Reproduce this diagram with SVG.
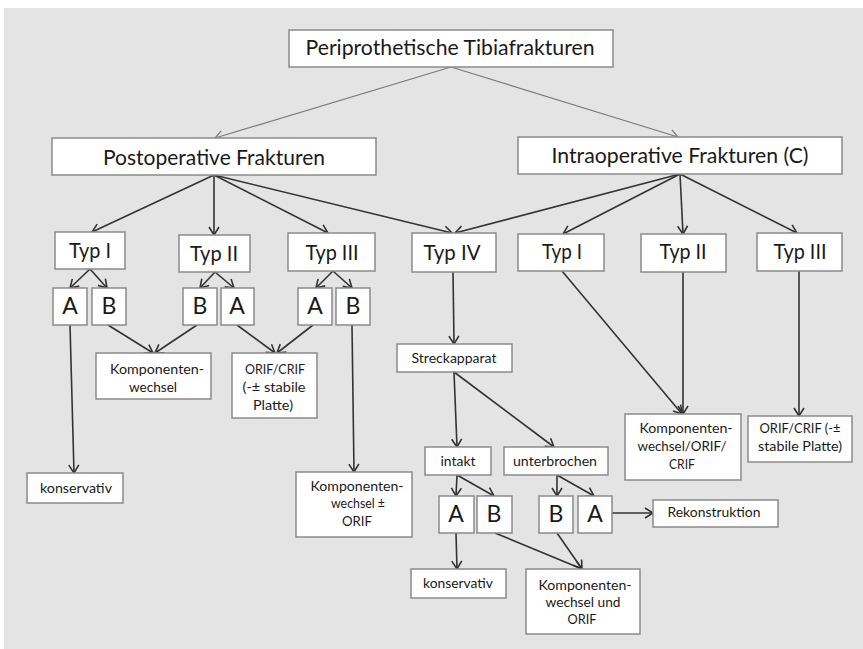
<svg xmlns="http://www.w3.org/2000/svg" width="863" height="649" viewBox="0 0 863 649">
<style>
.box{fill:#fff;stroke:#8a8a8a;stroke-width:1.5}
text{font-family:Lato,"Open Sans","Noto Sans",sans-serif;fill:#1a1a1a;text-anchor:middle}
.big{font-size:22px}
.ltr{font-size:23px}
.sm{font-size:14px}
.c{fill:none;stroke:#333;stroke-width:1.6;marker-end:url(#ah)}
.cl{fill:none;stroke:#7a7a7a;stroke-width:1.2;marker-end:url(#al)}
</style>
<defs>
<marker id="ah" markerUnits="userSpaceOnUse" markerWidth="12" markerHeight="12" refX="9" refY="5" orient="auto" overflow="visible">
<path d="M1,0 L9,5 L1,10" fill="none" stroke="#333" stroke-width="1.6"/>
</marker>
<marker id="al" markerUnits="userSpaceOnUse" markerWidth="12" markerHeight="12" refX="9" refY="5" orient="auto" overflow="visible">
<path d="M1,0 L9,5 L1,10" fill="none" stroke="#7a7a7a" stroke-width="1.2"/>
</marker>
</defs>
<rect x="0" y="0" width="863" height="649" fill="#fff"/>
<rect x="4" y="8" width="859" height="641" fill="#e4e4e4"/>

<g id="connectors">
<path class="cl" d="M451,67 L215,138"/>
<path class="cl" d="M451,67 L678,137"/>
<path class="c" d="M214,175 L92,232"/>
<path class="c" d="M214,175 L214,235"/>
<path class="c" d="M214,175 L328,233"/>
<path class="c" d="M214,175 L452,233"/>
<path class="c" d="M680,174 L455,233"/>
<path class="c" d="M680,174 L563,234"/>
<path class="c" d="M680,174 L683,234"/>
<path class="c" d="M680,174 L797,233"/>
<path class="c" d="M90,269 L70,288"/>
<path class="c" d="M90,269 L107,288"/>
<path class="c" d="M215,272 L200,288"/>
<path class="c" d="M215,272 L234,288"/>
<path class="c" d="M333,271 L316,288"/>
<path class="c" d="M333,271 L352,288"/>
<path class="c" d="M70,325 L74,473"/>
<path class="c" d="M108,325 L153,353"/>
<path class="c" d="M197,325 L155,353"/>
<path class="c" d="M237,325 L275,353"/>
<path class="c" d="M313,325 L277,353"/>
<path class="c" d="M352,325 L354,472"/>
<path class="c" d="M453,272 L454,344"/>
<path class="c" d="M454,372 L457,447"/>
<path class="c" d="M454,372 L554,447"/>
<path class="c" d="M562,271 L682,414"/>
<path class="c" d="M683,272 L683,414"/>
<path class="c" d="M799,271 L799,416"/>
<path class="c" d="M457,475 L456,496"/>
<path class="c" d="M457,475 L494,496"/>
<path class="c" d="M557,475 L557,496"/>
<path class="c" d="M557,475 L594,496"/>
<path class="c" d="M612,513 L653,513"/>
<path class="c" d="M456,533 L457,569"/>
<path class="c" d="M495,533 L582,569"/>
<path class="c" d="M557,533 L582,569"/>
</g>

<g id="n-root"><rect class="box" x="289" y="30" width="324" height="37"/><text class="big" x="450" y="55" textLength="289" lengthAdjust="spacingAndGlyphs">Periprothetische Tibiafrakturen</text></g>
<g id="n-post"><rect class="box" x="52" y="138" width="324" height="37"/><text class="big" x="214" y="165" textLength="222" lengthAdjust="spacingAndGlyphs">Postoperative Frakturen</text></g>
<g id="n-intra"><rect class="box" x="518" y="137" width="324" height="37"/><text class="big" x="680" y="163" textLength="257" lengthAdjust="spacingAndGlyphs">Intraoperative Frakturen (C)</text></g>

<g id="n-p-typ1"><rect class="box" x="55" y="232" width="70" height="37"/><text class="big" x="90" y="258" textLength="42" lengthAdjust="spacingAndGlyphs">Typ I</text></g>
<g id="n-p-typ2"><rect class="box" x="179" y="235" width="71" height="37"/><text class="big" x="214" y="261" textLength="48" lengthAdjust="spacingAndGlyphs">Typ II</text></g>
<g id="n-p-typ3"><rect class="box" x="288" y="233" width="87" height="38"/><text class="big" x="332" y="260" textLength="53" lengthAdjust="spacingAndGlyphs">Typ III</text></g>
<g id="n-typ4"><rect class="box" x="412" y="233" width="84" height="39"/><text class="big" x="452" y="260" textLength="57" lengthAdjust="spacingAndGlyphs">Typ IV</text></g>
<g id="n-i-typ1"><rect class="box" x="518" y="234" width="86" height="37"/><text class="big" x="562" y="259" textLength="40" lengthAdjust="spacingAndGlyphs">Typ I</text></g>
<g id="n-i-typ2"><rect class="box" x="641" y="234" width="85" height="38"/><text class="big" x="683" y="259" textLength="47" lengthAdjust="spacingAndGlyphs">Typ II</text></g>
<g id="n-i-typ3"><rect class="box" x="757" y="233" width="85" height="38"/><text class="big" x="800" y="259" textLength="53" lengthAdjust="spacingAndGlyphs">Typ III</text></g>

<g id="n-p1-a"><rect class="box" x="53" y="288" width="34" height="37"/><text class="ltr" x="70" y="314">A</text></g>
<g id="n-p1-b"><rect class="box" x="92" y="288" width="34" height="37"/><text class="ltr" x="109" y="314">B</text></g>
<g id="n-p2-b"><rect class="box" x="183" y="288" width="34" height="37"/><text class="ltr" x="200" y="314">B</text></g>
<g id="n-p2-a"><rect class="box" x="221" y="288" width="33" height="37"/><text class="ltr" x="237" y="314">A</text></g>
<g id="n-p3-a"><rect class="box" x="298" y="288" width="34" height="37"/><text class="ltr" x="315" y="314">A</text></g>
<g id="n-p3-b"><rect class="box" x="336" y="288" width="34" height="37"/><text class="ltr" x="353" y="314">B</text></g>

<g id="n-kw1"><rect class="box" x="96" y="353" width="115" height="46"/><text class="sm" x="157" y="374" textLength="94" lengthAdjust="spacingAndGlyphs">Komponenten-</text><text class="sm" x="153" y="392" textLength="48" lengthAdjust="spacingAndGlyphs">wechsel</text></g>
<g id="n-orif1"><rect class="box" x="232" y="353" width="85" height="65"/><text class="sm" x="275" y="374" textLength="60" lengthAdjust="spacingAndGlyphs">ORIF/CRIF</text><text class="sm" x="274" y="392" textLength="63" lengthAdjust="spacingAndGlyphs">(-± stabile</text><text class="sm" x="273" y="410" textLength="40" lengthAdjust="spacingAndGlyphs">Platte)</text></g>
<g id="n-kons1"><rect class="box" x="27" y="473" width="96" height="30"/><text class="sm" x="76" y="493" textLength="72" lengthAdjust="spacingAndGlyphs">konservativ</text></g>
<g id="n-kw2"><rect class="box" x="296" y="472" width="116" height="65"/><text class="sm" x="357" y="491" textLength="93" lengthAdjust="spacingAndGlyphs">Komponenten-</text><text class="sm" x="358" y="508" textLength="54" lengthAdjust="spacingAndGlyphs">wechsel ±</text><text class="sm" x="357" y="526" textLength="30" lengthAdjust="spacingAndGlyphs">ORIF</text></g>

<g id="n-streck"><rect class="box" x="397" y="344" width="115" height="28"/><text class="sm" x="454" y="363" textLength="85" lengthAdjust="spacingAndGlyphs">Streckapparat</text></g>
<g id="n-intakt"><rect class="box" x="425" y="447" width="66" height="28"/><text class="sm" x="458" y="466" textLength="35" lengthAdjust="spacingAndGlyphs">intakt</text></g>
<g id="n-unterb"><rect class="box" x="504" y="447" width="104" height="28"/><text class="sm" x="555" y="466" textLength="84" lengthAdjust="spacingAndGlyphs">unterbrochen</text></g>

<g id="n-i-kw"><rect class="box" x="625" y="414" width="116" height="66"/><text class="sm" x="686" y="433" textLength="93" lengthAdjust="spacingAndGlyphs">Komponenten-</text><text class="sm" x="682" y="451" textLength="89" lengthAdjust="spacingAndGlyphs">wechsel/ORIF/</text><text class="sm" x="682" y="469" textLength="26" lengthAdjust="spacingAndGlyphs">CRIF</text></g>
<g id="n-i-orif"><rect class="box" x="748" y="416" width="104" height="46"/><text class="sm" x="800" y="433" textLength="81" lengthAdjust="spacingAndGlyphs">ORIF/CRIF (-±</text><text class="sm" x="800" y="451" textLength="84" lengthAdjust="spacingAndGlyphs">stabile Platte)</text></g>

<g id="n-in-a"><rect class="box" x="439" y="496" width="35" height="37"/><text class="ltr" x="456" y="522">A</text></g>
<g id="n-in-b"><rect class="box" x="477" y="496" width="35" height="37"/><text class="ltr" x="494" y="522">B</text></g>
<g id="n-un-b"><rect class="box" x="539" y="496" width="34" height="37"/><text class="ltr" x="556" y="522">B</text></g>
<g id="n-un-a"><rect class="box" x="578" y="496" width="34" height="37"/><text class="ltr" x="595" y="522">A</text></g>
<g id="n-rek"><rect class="box" x="653" y="500" width="125" height="27"/><text class="sm" x="714" y="517" textLength="93" lengthAdjust="spacingAndGlyphs">Rekonstruktion</text></g>
<g id="n-kons2"><rect class="box" x="411" y="569" width="95" height="29"/><text class="sm" x="458" y="588" textLength="70" lengthAdjust="spacingAndGlyphs">konservativ</text></g>
<g id="n-kw3"><rect class="box" x="526" y="569" width="114" height="65"/><text class="sm" x="585" y="590" textLength="93" lengthAdjust="spacingAndGlyphs">Komponenten-</text><text class="sm" x="583" y="607" textLength="75" lengthAdjust="spacingAndGlyphs">wechsel und</text><text class="sm" x="582" y="624" textLength="29" lengthAdjust="spacingAndGlyphs">ORIF</text></g>
</svg>
